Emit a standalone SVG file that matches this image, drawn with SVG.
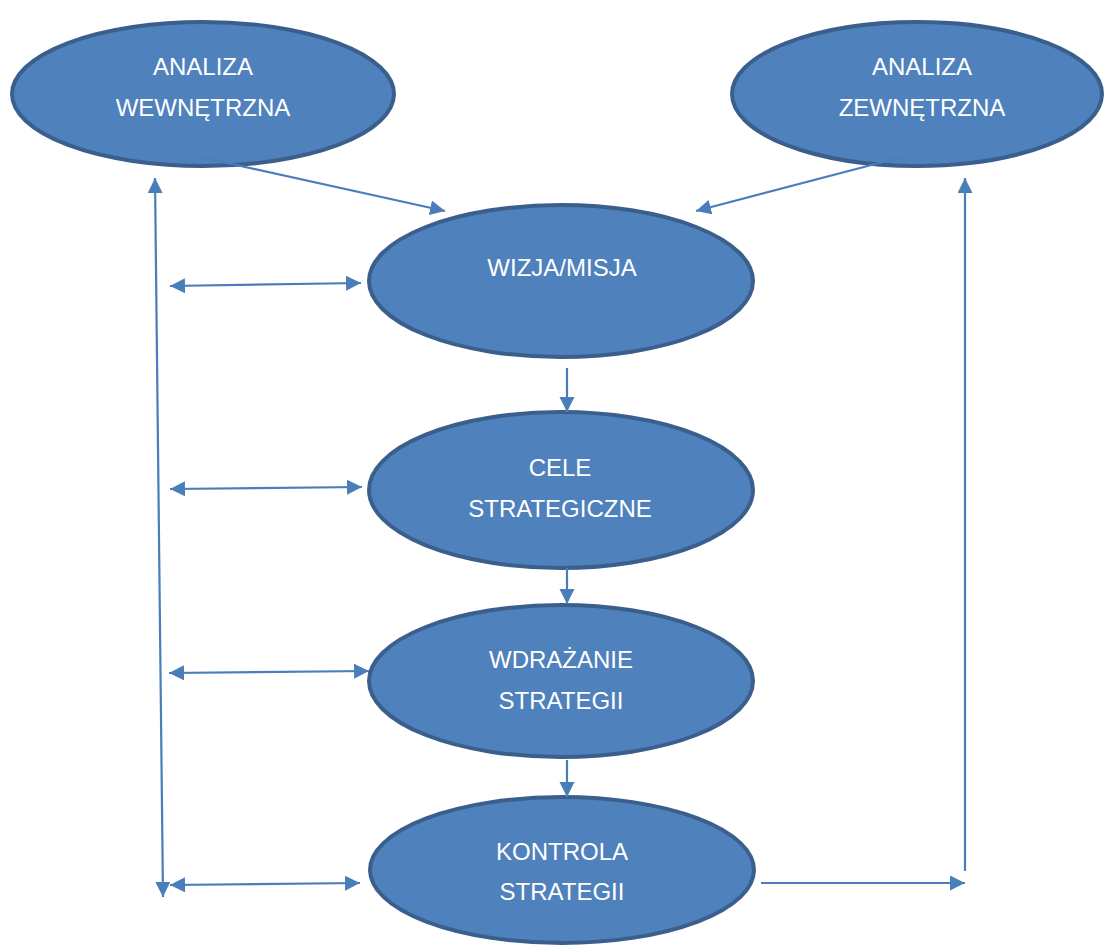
<svg xmlns="http://www.w3.org/2000/svg" width="1104" height="946" viewBox="0 0 1104 946">
<style>
.node ellipse{fill:#4F81BD;stroke:#3A5F8D;stroke-width:4}
.node text{fill:#FFFFFF;font-family:"Liberation Sans",Arial,sans-serif;font-size:24px;text-anchor:middle}
.conn line{stroke:#4A7EBB;stroke-width:2.2;fill:none}
</style>
<defs>
<marker id="ah" markerUnits="userSpaceOnUse" markerWidth="16" markerHeight="16" refX="15" refY="7.5" orient="auto-start-reverse" viewBox="0 0 16 16">
<path d="M0,0 L15,7.5 L0,15 Z" fill="#4A7EBB"/>
</marker>
</defs>
<rect width="1104" height="946" fill="#FFFFFF"/>
<g id="n-wewn" class="node">
<ellipse cx="203" cy="94" rx="191" ry="72"/>
<text x="203" y="75">ANALIZA</text>
<text x="203" y="116">WEWNĘTRZNA</text>
</g>
<g id="n-zewn" class="node">
<ellipse cx="917" cy="94" rx="185" ry="72"/>
<text x="922" y="75">ANALIZA</text>
<text x="922" y="116">ZEWNĘTRZNA</text>
</g>
<g id="n-wizja" class="node">
<ellipse cx="561" cy="281" rx="192" ry="76"/>
<text x="562" y="276">WIZJA/MISJA</text>
</g>
<g id="n-cele" class="node">
<ellipse cx="561" cy="490" rx="192" ry="78"/>
<text x="560" y="476">CELE</text>
<text x="560" y="517">STRATEGICZNE</text>
</g>
<g id="n-wdr" class="node">
<ellipse cx="561" cy="681" rx="192" ry="76"/>
<text x="561" y="668">WDRAŻANIE</text>
<text x="561" y="709">STRATEGII</text>
</g>
<g id="n-kontrola" class="node">
<ellipse cx="562" cy="870" rx="192" ry="73"/>
<text x="562" y="860">KONTROLA</text>
<text x="562" y="900">STRATEGII</text>
</g>
<g id="connectors" class="conn">
<line x1="200" y1="157" x2="445" y2="211" marker-end="url(#ah)"/>
<line x1="902" y1="157" x2="696" y2="211" marker-end="url(#ah)"/>
<line x1="155" y1="178" x2="163" y2="897" marker-start="url(#ah)" marker-end="url(#ah)"/>
<line x1="965" y1="871" x2="965" y2="178" marker-end="url(#ah)"/>
<line x1="170" y1="286" x2="361" y2="283" marker-start="url(#ah)" marker-end="url(#ah)"/>
<line x1="170" y1="489" x2="362" y2="487" marker-start="url(#ah)" marker-end="url(#ah)"/>
<line x1="169" y1="673" x2="369" y2="671" marker-start="url(#ah)" marker-end="url(#ah)"/>
<line x1="170" y1="885" x2="360" y2="883" marker-start="url(#ah)" marker-end="url(#ah)"/>
<line x1="567" y1="368" x2="567" y2="412" marker-end="url(#ah)"/>
<line x1="567" y1="568" x2="567" y2="604" marker-end="url(#ah)"/>
<line x1="567" y1="760" x2="567" y2="797" marker-end="url(#ah)"/>
<line x1="761" y1="883" x2="965" y2="883" marker-end="url(#ah)"/>
</g>
</svg>
